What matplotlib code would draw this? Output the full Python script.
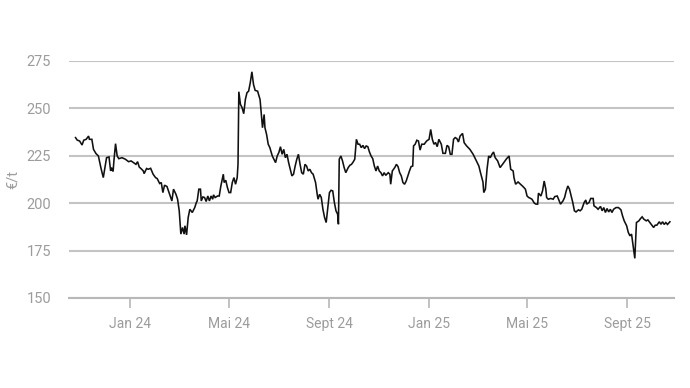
import matplotlib
matplotlib.use("Agg")
import matplotlib.pyplot as plt
import pandas as pd

dates = [
    "2023-10-26", "2023-10-28", "2023-10-31", "2023-11-03", "2023-11-05", "2023-11-08",
    "2023-11-11", "2023-11-12", "2023-11-15", "2023-11-17", "2023-11-20", "2023-11-23",
    "2023-11-26", "2023-11-29", "2023-12-01", "2023-12-03", "2023-12-06", "2023-12-08",
    "2023-12-09", "2023-12-11", "2023-12-12", "2023-12-14", "2023-12-16", "2023-12-18",
    "2023-12-22", "2023-12-26", "2023-12-30", "2024-01-02", "2024-01-05", "2024-01-08",
    "2024-01-10", "2024-01-12", "2024-01-15", "2024-01-17", "2024-01-18", "2024-01-21",
    "2024-01-23", "2024-01-26", "2024-01-29", "2024-02-01", "2024-02-03", "2024-02-06",
    "2024-02-08", "2024-02-10", "2024-02-12", "2024-02-15", "2024-02-19", "2024-02-21",
    "2024-02-23", "2024-02-26", "2024-02-28", "2024-03-01", "2024-03-03", "2024-03-05",
    "2024-03-07", "2024-03-08", "2024-03-10", "2024-03-12", "2024-03-14", "2024-03-17",
    "2024-03-20", "2024-03-22", "2024-03-23", "2024-03-25", "2024-03-27", "2024-03-28",
    "2024-03-30", "2024-04-01", "2024-04-03", "2024-04-05", "2024-04-07", "2024-04-09",
    "2024-04-11", "2024-04-12", "2024-04-14", "2024-04-17", "2024-04-19", "2024-04-21",
    "2024-04-24", "2024-04-25", "2024-04-27", "2024-04-29", "2024-05-01", "2024-05-03",
    "2024-05-05", "2024-05-07", "2024-05-09", "2024-05-11", "2024-05-12", "2024-05-13",
    "2024-05-15", "2024-05-17", "2024-05-19", "2024-05-21", "2024-05-23", "2024-05-25",
    "2024-05-27", "2024-05-29", "2024-05-31", "2024-06-02", "2024-06-05", "2024-06-08",
    "2024-06-10", "2024-06-11", "2024-06-13", "2024-06-14", "2024-06-16", "2024-06-18",
    "2024-06-20", "2024-06-23", "2024-06-25", "2024-06-27", "2024-06-29", "2024-07-01",
    "2024-07-03", "2024-07-05", "2024-07-07", "2024-07-09", "2024-07-11", "2024-07-13",
    "2024-07-15", "2024-07-17", "2024-07-19", "2024-07-21", "2024-07-23", "2024-07-25",
    "2024-07-27", "2024-07-29", "2024-07-31", "2024-08-02", "2024-08-04", "2024-08-06",
    "2024-08-08", "2024-08-10", "2024-08-12", "2024-08-15", "2024-08-17", "2024-08-18",
    "2024-08-20", "2024-08-22", "2024-08-24", "2024-08-26", "2024-08-28", "2024-08-30",
    "2024-09-01", "2024-09-03", "2024-09-05", "2024-09-07", "2024-09-09", "2024-09-11",
    "2024-09-12", "2024-09-13", "2024-09-15", "2024-09-17", "2024-09-19", "2024-09-21",
    "2024-09-24", "2024-09-26", "2024-09-28", "2024-09-30", "2024-10-02", "2024-10-04",
    "2024-10-06", "2024-10-08", "2024-10-10", "2024-10-12", "2024-10-14", "2024-10-16",
    "2024-10-18", "2024-10-20", "2024-10-22", "2024-10-24", "2024-10-26", "2024-10-28",
    "2024-10-30", "2024-11-01", "2024-11-03", "2024-11-05", "2024-11-07", "2024-11-09",
    "2024-11-12", "2024-11-14", "2024-11-15", "2024-11-17", "2024-11-20", "2024-11-22",
    "2024-11-24", "2024-11-26", "2024-11-28", "2024-11-30", "2024-12-02", "2024-12-04",
    "2024-12-06", "2024-12-08", "2024-12-10", "2024-12-12", "2024-12-13", "2024-12-15",
    "2024-12-17", "2024-12-19", "2024-12-21", "2024-12-23", "2024-12-26", "2024-12-29",
    "2025-01-01", "2025-01-03", "2025-01-05", "2025-01-07", "2025-01-09", "2025-01-11",
    "2025-01-13", "2025-01-16", "2025-01-18", "2025-01-21", "2025-01-23", "2025-01-25",
    "2025-01-27", "2025-01-29", "2025-01-31", "2025-02-02", "2025-02-04", "2025-02-06",
    "2025-02-08", "2025-02-11", "2025-02-13", "2025-02-16", "2025-02-20", "2025-02-24",
    "2025-02-28", "2025-03-03", "2025-03-05", "2025-03-08", "2025-03-09", "2025-03-11",
    "2025-03-13", "2025-03-15", "2025-03-17", "2025-03-19", "2025-03-21", "2025-03-23",
    "2025-03-26", "2025-03-29", "2025-04-01", "2025-04-04", "2025-04-06", "2025-04-09",
    "2025-04-11", "2025-04-14", "2025-04-15", "2025-04-17", "2025-04-20", "2025-04-23",
    "2025-04-26", "2025-04-29", "2025-05-01", "2025-05-03", "2025-05-05", "2025-05-07",
    "2025-05-10", "2025-05-12", "2025-05-14", "2025-05-15", "2025-05-18", "2025-05-20",
    "2025-05-22", "2025-05-24", "2025-05-25", "2025-05-27", "2025-05-30", "2025-06-02",
    "2025-06-04", "2025-06-07", "2025-06-09", "2025-06-11", "2025-06-14", "2025-06-16",
    "2025-06-18", "2025-06-20", "2025-06-22", "2025-06-24", "2025-06-26", "2025-06-28",
    "2025-06-30", "2025-07-03", "2025-07-05", "2025-07-07", "2025-07-10", "2025-07-12",
    "2025-07-13", "2025-07-16", "2025-07-18", "2025-07-21", "2025-07-22", "2025-07-25",
    "2025-07-27", "2025-07-30", "2025-08-01", "2025-08-03", "2025-08-05", "2025-08-07",
    "2025-08-09", "2025-08-11", "2025-08-13", "2025-08-15", "2025-08-18", "2025-08-21",
    "2025-08-24", "2025-08-26", "2025-08-28", "2025-08-31", "2025-09-02", "2025-09-04",
    "2025-09-06", "2025-09-08", "2025-09-10", "2025-09-12", "2025-09-15", "2025-09-17",
    "2025-09-19", "2025-09-21", "2025-09-24", "2025-09-26", "2025-09-29", "2025-10-01",
    "2025-10-03", "2025-10-05", "2025-10-07", "2025-10-10", "2025-10-12", "2025-10-14",
    "2025-10-16", "2025-10-18", "2025-10-20", "2025-10-23",
]

prices = [
    234.6, 233.3, 232.8, 230.7, 233.2, 233.7,
    235.4, 233.7, 233.7, 228.4, 226.2, 224.9,
    218.8, 213.5, 218.8, 224.0, 224.4, 217.0,
    218.8, 216.7, 222.3, 231.4, 224.9, 223.5,
    224.0, 223.2, 221.9, 222.3, 221.4, 220.5,
    221.9, 219.1, 217.9, 217.0, 215.6, 218.3,
    217.9, 218.4, 215.3, 213.5, 213.0, 210.4,
    210.9, 205.6, 209.5, 208.8, 203.8, 201.2,
    207.4, 204.7, 202.1, 196.0, 183.7, 187.2,
    183.7, 188.1, 183.3, 192.5, 196.8, 195.1,
    197.7, 200.4, 201.2, 207.4, 207.4, 201.2,
    203.3, 203.0, 200.9, 203.8, 201.2, 203.8,
    202.1, 204.4, 203.0, 203.8, 203.8, 209.1,
    215.3, 210.9, 212.1, 208.3, 205.6, 205.6,
    210.9, 213.5, 210.0, 213.5, 220.5, 258.8,
    252.1, 250.4, 247.2, 254.7, 258.3, 259.1,
    263.5, 269.3, 262.6, 259.5, 259.1, 254.7,
    245.1, 239.8, 246.8, 239.8, 236.3, 231.1,
    229.3, 224.9, 223.2, 221.4, 224.9, 226.7,
    229.8, 225.8, 228.4, 224.0, 225.8, 221.4,
    217.9, 214.4, 215.3, 219.6, 223.2, 225.8,
    220.5, 216.1, 215.3, 220.5, 219.6, 217.0,
    217.9, 216.1, 215.3, 210.9, 204.7, 202.1,
    204.7, 203.0, 196.8, 192.5, 189.8, 197.7,
    205.6, 206.8, 206.5, 200.4, 196.0, 194.2,
    188.9, 223.2, 224.9, 222.3, 218.8, 216.1,
    218.8, 220.0, 220.5, 221.7, 223.2, 233.7,
    231.1, 231.1, 229.3, 230.5, 228.8, 230.2,
    229.8, 227.0, 224.9, 223.5, 219.6, 217.0,
    219.6, 217.0, 216.1, 214.4, 216.1, 214.7,
    216.1, 215.3, 210.0, 217.0, 218.8, 220.5,
    219.3, 216.1, 214.4, 210.9, 210.0, 211.7,
    214.4, 217.0, 219.3, 219.6, 230.2, 231.1,
    233.2, 232.8, 228.0, 231.1, 231.1, 232.8,
    233.7, 238.9, 233.7, 231.1, 232.0, 229.8,
    233.7, 231.1, 226.3, 226.3, 230.5, 229.8,
    225.8, 225.8, 233.7, 234.6, 234.1, 232.3,
    235.4, 236.8, 231.9, 230.2, 228.4, 225.8,
    222.3, 219.6, 216.1, 211.2, 205.6, 207.4,
    217.9, 224.9, 224.0, 225.8, 227.0, 224.0,
    222.3, 218.8, 220.5, 222.3, 223.5, 224.9,
    217.9, 217.0, 213.5, 210.0, 211.2, 210.0,
    208.8, 207.4, 203.8, 203.0, 202.6, 202.1,
    200.0, 199.5, 199.5, 205.3, 203.8, 206.5,
    211.7, 207.4, 203.0, 202.1, 202.5, 202.1,
    203.5, 203.8, 201.7, 199.5, 201.2, 203.0,
    206.5, 209.1, 207.4, 203.8, 200.4, 196.0,
    195.4, 196.5, 196.0, 196.8, 200.4, 201.7,
    199.5, 200.4, 202.5, 202.5, 198.6, 197.7,
    196.8, 198.3, 196.0, 197.7, 195.1, 197.2,
    195.4, 196.8, 195.1, 196.8, 197.7, 197.7,
    196.5, 193.3, 190.7, 188.1, 184.6, 182.8,
    183.7, 177.5, 170.9, 189.8, 190.7, 191.9,
    192.8, 191.6, 190.7, 191.2, 189.5, 188.4,
    187.2, 188.4, 188.4, 190.2, 188.9, 190.2,
    188.8, 189.8, 188.8, 190.2,
]

tick_dates = ["2024-01-01", "2024-05-01", "2024-09-01", "2025-01-01", "2025-05-01", "2025-09-01"]
tick_labels = ["Jan 24", "Mai 24", "Sept 24", "Jan 25", "Mai 25", "Sept 25"]
y_ticks = [150, 175, 200, 225, 250, 275]
y_label = "€/t"

plt.rcParams["font.family"] = ["Roboto", "DejaVu Sans"]

grid_c = "#c4c4c4"
text_c = "#9c9c9c"

fig = plt.figure(figsize=(6.9, 3.88), dpi=100)
ax = fig.add_axes([69 / 690, 90 / 388, 605 / 690, 237 / 388])

x = pd.to_datetime(dates)
ax.plot(x, prices, color="#111111", linewidth=1.15, solid_joinstyle="miter", zorder=3)

ax.set_xlim(pd.Timestamp("2023-10-18"), pd.Timestamp("2025-10-28"))
ax.set_ylim(150, 275)

ax.set_yticks(y_ticks)
ax.set_xticks(pd.to_datetime(tick_dates))
ax.set_xticklabels(tick_labels)

ax.yaxis.grid(True, color=grid_c, linewidth=1.5, zorder=1)
ax.xaxis.grid(False)
for s in ["top", "right", "left"]:
    ax.spines[s].set_visible(False)
ax.spines["bottom"].set_color("#b8b8b8")
ax.spines["bottom"].set_linewidth(1.5)

ax.tick_params(axis="y", length=0, pad=13, labelsize=10.5, labelcolor=text_c)
ax.tick_params(axis="x", length=7, width=1.2, color="#b8b8b8", pad=7,
               labelsize=10, labelcolor=text_c)

ax.set_ylabel(y_label, color=text_c, fontsize=10.5, labelpad=5)

fig.savefig("out.png", dpi=100)
